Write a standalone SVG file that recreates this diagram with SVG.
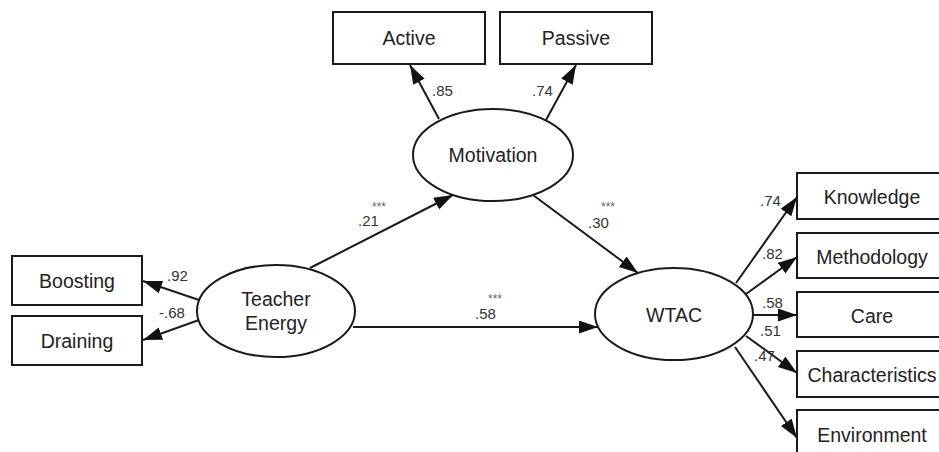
<svg xmlns="http://www.w3.org/2000/svg" width="939" height="452" viewBox="0 0 939 452">
  <style>
    .box { fill: #fff; stroke: #1a1a1a; stroke-width: 2; }
    .lat { fill: #fff; stroke: #1a1a1a; stroke-width: 2; }
    .lbl { font-family: "Liberation Sans", Arial, sans-serif; font-size: 19.5px; fill: #222; text-anchor: middle; }
    .coef { font-family: "Liberation Sans", Arial, sans-serif; font-size: 15px; fill: #333; }
    .sig { font-family: "Liberation Sans", Arial, sans-serif; font-size: 12px; fill: #666; }
    .edge { stroke: #1a1a1a; stroke-width: 2; fill: none; marker-end: url(#arrow); }
  </style>
  <defs>
    <marker id="arrow" markerUnits="userSpaceOnUse" markerWidth="20" markerHeight="14" refX="19" refY="6.5" orient="auto">
      <path d="M0,0 L19,6.5 L0,13 z" fill="#111"/>
    </marker>
  </defs>
  <rect width="939" height="452" fill="#fff"/>

  <!-- connectors -->
  <g id="connectors">
    <line class="edge" x1="439" y1="119" x2="410" y2="65"/>
    <line class="edge" x1="546" y1="120" x2="576" y2="65"/>
    <line class="edge" x1="310" y1="268" x2="453" y2="195"/>
    <line class="edge" x1="533" y1="195" x2="638" y2="273"/>
    <line class="edge" x1="353" y1="327" x2="598" y2="327"/>
    <line class="edge" x1="199" y1="300" x2="143" y2="281"/>
    <line class="edge" x1="199" y1="320" x2="143" y2="340"/>
    <line class="edge" x1="736" y1="283" x2="797" y2="197"/>
    <line class="edge" x1="746" y1="294" x2="797" y2="257"/>
    <line class="edge" x1="753" y1="315" x2="797" y2="315"/>
    <line class="edge" x1="746" y1="336" x2="797" y2="373"/>
    <line class="edge" x1="735" y1="347" x2="797" y2="438"/>

    <!-- path coefficients -->
    <text class="coef" x="432" y="96">.85</text>
    <text class="coef" x="532" y="96">.74</text>
    <text class="coef" x="358" y="226">.21</text>
    <text class="sig" x="372" y="211">***</text>
    <text class="coef" x="588" y="228">.30</text>
    <text class="sig" x="601" y="211">***</text>
    <text class="coef" x="475" y="319">.58</text>
    <text class="sig" x="488" y="303">***</text>
    <text class="coef" x="167" y="281">.92</text>
    <text class="coef" x="159" y="318">-.68</text>
    <text class="coef" x="760" y="206">.74</text>
    <text class="coef" x="762" y="259">.82</text>
    <text class="coef" x="762" y="308">.58</text>
    <text class="coef" x="760" y="336">.51</text>
    <text class="coef" x="754" y="361">.47</text>
  </g>

  <g id="active">
    <rect class="box" x="333" y="12" width="152" height="52"/>
    <text class="lbl" x="409" y="45">Active</text>
  </g>
  <g id="passive">
    <rect class="box" x="500" y="12" width="152" height="52"/>
    <text class="lbl" x="576" y="45">Passive</text>
  </g>
  <g id="motivation">
    <ellipse class="lat" cx="493" cy="155" rx="80" ry="46"/>
    <text class="lbl" x="493" y="162">Motivation</text>
  </g>
  <g id="teacher-energy">
    <ellipse class="lat" cx="276" cy="311" rx="79" ry="46"/>
    <text class="lbl" x="276" y="306">Teacher</text>
    <text class="lbl" x="276" y="330">Energy</text>
  </g>
  <g id="wtac">
    <ellipse class="lat" cx="674" cy="314" rx="79" ry="46"/>
    <text class="lbl" x="674" y="322">WTAC</text>
  </g>
  <g id="boosting">
    <rect class="box" x="12" y="256" width="130" height="49"/>
    <text class="lbl" x="77" y="288">Boosting</text>
  </g>
  <g id="draining">
    <rect class="box" x="12" y="316" width="130" height="49"/>
    <text class="lbl" x="77" y="348">Draining</text>
  </g>
  <g id="knowledge">
    <rect class="box" x="797" y="173" width="152" height="46"/>
    <text class="lbl" x="872" y="204">Knowledge</text>
  </g>
  <g id="methodology">
    <rect class="box" x="797" y="233" width="152" height="45"/>
    <text class="lbl" x="872" y="264">Methodology</text>
  </g>
  <g id="care">
    <rect class="box" x="797" y="292" width="152" height="45"/>
    <text class="lbl" x="872" y="323">Care</text>
  </g>
  <g id="characteristics">
    <rect class="box" x="797" y="351" width="152" height="46"/>
    <text class="lbl" x="872" y="382">Characteristics</text>
  </g>
  <g id="environment">
    <rect class="box" x="797" y="410" width="152" height="60"/>
    <text class="lbl" x="872" y="442">Environment</text>
  </g>
</svg>
